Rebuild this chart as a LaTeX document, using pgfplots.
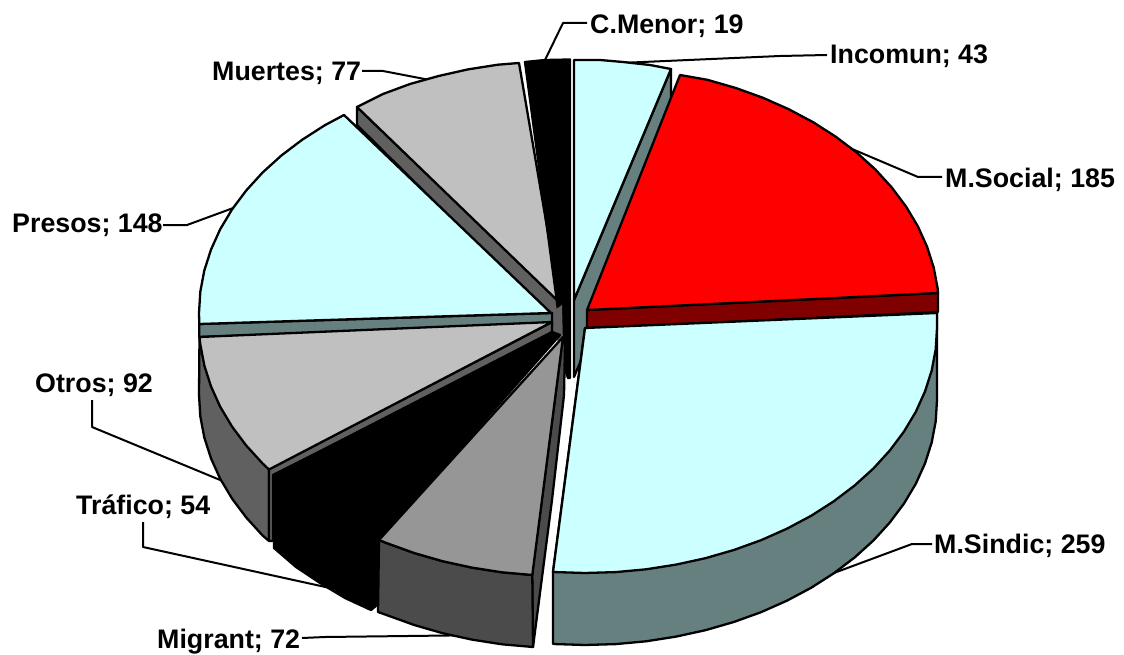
\documentclass[border=0pt]{standalone}
\usepackage{fontspec}
\setmainfont{Liberation Sans}
\usepackage{pgfplots}
\pgfplotsset{compat=1.18}
\definecolor{cy}{HTML}{CCFFFF}
\definecolor{cyd}{HTML}{668080}
\definecolor{sil}{HTML}{C0C0C0}
\definecolor{sild}{HTML}{606060}
\definecolor{gr}{HTML}{969696}
\definecolor{grd}{HTML}{4B4B4B}
\definecolor{rd}{HTML}{FF0000}
\definecolor{rdd}{HTML}{800000}
\pgfplotsset{
  w/.style={draw=black,line width=2.3pt,line join=round,fill=#1,mark=none},
  ld/.style={draw=black,line width=2pt,line join=round,mark=none},
}
\newcommand{\lab}[3]{\node[anchor=west,inner sep=0pt,font=\fontsize{26.8}{30}\selectfont\bfseries] at (axis cs:#1,#2) {#3};}
\begin{document}
\begin{tikzpicture}
\useasboundingbox (0,0) rectangle (1124pt,655pt);
\begin{axis}[at={(0,0)},anchor=south west,scale only axis,width=1124pt,height=655pt,
  xmin=0,xmax=1124,ymin=0,ymax=655,y dir=reverse,hide axis,clip=true]
% leaders
\addplot[ld] coordinates {(587,23)(563,23)(545,60)};
\addplot[ld] coordinates {(827,55)(780,56)(620,63)};
\addplot[ld] coordinates {(942,177)(918,177)(845,146)};
\addplot[ld] coordinates {(932,544)(912,544)(815,580)};
\addplot[ld] coordinates {(302,638)(325,637)(490,635)};
\addplot[ld] coordinates {(143,522)(143,547)(330,588)};
\addplot[ld] coordinates {(92,400)(92,427)(225,482)};
\addplot[ld] coordinates {(163,225)(187,225)(236,207)};
\addplot[ld] coordinates {(362,71)(383,71)(435,81)};
% Muertes side and top
\addplot[w=sild] coordinates {(357,107)(357,125)(548,314)(562,314)(562,303)} --cycle;
\addplot[w=sil] coordinates {(357,107)(383,94)(410,84)(438.6,76)(467.9,69.4)(497.9,64.7)(519,63)(560,303)} --cycle;
% C.Menor
\addplot[w=black] coordinates {(525,62)(545,60)(570,59.5)(570,378)(568,378)(563,363)(559,345)(558,310)} --cycle;
% centre patch
\addplot[fill=sild,draw=none,mark=none] coordinates {(552,312)(562,305)(563,345)(552,335)} --cycle;
% Incomun
\addplot[w=cyd] coordinates {(671,69)(574,300)(574,377)(671,145)} --cycle;
\addplot[w=cy] coordinates {(574,60)(600,60)(623,62)(650,65)(671,69)(574,300)} --cycle;
% M.Social
\addplot[w=rdd] coordinates {(587,310)(938,293)(938,312)(587,329)} --cycle;
\addplot[w=rd] coordinates {(680,75)(707.4,79.8)(735.8,88)(763,97.8)(788.9,109.3)(813.3,122.3)(835.9,136.8)(856.6,152.5)(875.4,169.5)(891.8,187.5)(906,206.5)(917.8,226.2)(927,246.6)(933.7,267.5)(937.7,288.7)(938,293)(587,310)} --cycle;
% M.Sindic
\addplot[w=cyd] coordinates {(937,313)(937,400)(935.7,421.3)(931.7,442.5)(925,463.4)(915.8,483.8)(904,503.5)(889.8,522.5)(873.4,540.5)(854.6,557.5)(833.9,573.2)(811.3,587.7)(786.9,600.7)(761,612.2)(733.8,622)(705.4,630.2)(676.1,636.6)(646.1,641.3)(615.7,644.1)(585,645)(553,644)(553,572)(585,328)} --cycle;
\addplot[w=cy] coordinates {(937,313)(937,328)(935.7,349.3)(931.7,370.5)(925,391.4)(915.8,411.8)(904,431.5)(889.8,450.5)(873.4,468.5)(854.6,485.5)(833.9,501.2)(811.3,515.7)(786.9,528.7)(761,540.2)(733.8,550)(705.4,558.2)(676.1,564.6)(646.1,569.3)(615.7,572.1)(585,573)(553,572)(585,328)} --cycle;
% Presos
\addplot[w=cyd] coordinates {(199.3,324)(199.3,337)(552,326)(552,313)} --cycle;
\addplot[w=cy] coordinates {(344,115)(324.7,125.3)(302.1,139.8)(281.4,155.5)(262.6,172.5)(246.2,190.5)(232,209.5)(220.2,229.2)(211,249.6)(204.3,270.5)(200.3,291.7)(199,313)(199.3,324)(551,313)} --cycle;
% Otros
\addplot[w=sild] coordinates {(199.5,337)(199,395)(200.3,416.3)(204.3,437.5)(211,458.4)(220.2,478.8)(232,498.5)(246.2,517.5)(262.6,535.5)(269,541)(269,469)} --cycle;
\addplot[w=sild] coordinates {(269,469)(552,322)(552,335)(273,475)(273,541)(269,541)} --cycle;
\addplot[w=sil] coordinates {(199.5,337)(200.3,344.3)(204.3,365.5)(211,386.4)(220.2,406.8)(232,426.5)(246.2,445.5)(262.6,463.5)(269,469.5)(552,322)} --cycle;
% Trafico
\addplot[w=black] coordinates {(274,475)(552,332)(560,335)(379,540)(377,605)(371,610)(345,598)(320,583)(296,567)(274,548)} --cycle;
% Migrant
\addplot[w=grd] coordinates {(563,337)(565,345)(564,395)(552,500)(533,647)(532,575)} --cycle;
\addplot[w=grd] coordinates {(379,540)(387,543.2)(414.2,553)(442.6,561.2)(471.9,567.6)(501.9,572.3)(532.3,575)(533,647)(501.9,644.3)(471.9,639.6)(442.6,633.2)(414.2,625)(387,615.2)(378,612)} --cycle;
\addplot[w=gr] coordinates {(379,540)(387,543.2)(414.2,553)(442.6,561.2)(471.9,567.6)(501.9,572.3)(532.3,575)(563,337)} --cycle;
% labels
\lab{590}{26.5}{C.Menor; 19}
\lab{830}{56.5}{Incomun; 43}
\lab{945}{179.5}{M.Social; 185}
\lab{934}{545.5}{M.Sindic; 259}
\lab{157}{641.5}{Migrant; 72}
\lab{76}{506.5}{Tráfico; 54}
\lab{35}{385.5}{Otros; 92}
\lab{12}{225.5}{Presos; 148}
\lab{212}{73.5}{Muertes; 77}
\end{axis}
\end{tikzpicture}
\end{document}
